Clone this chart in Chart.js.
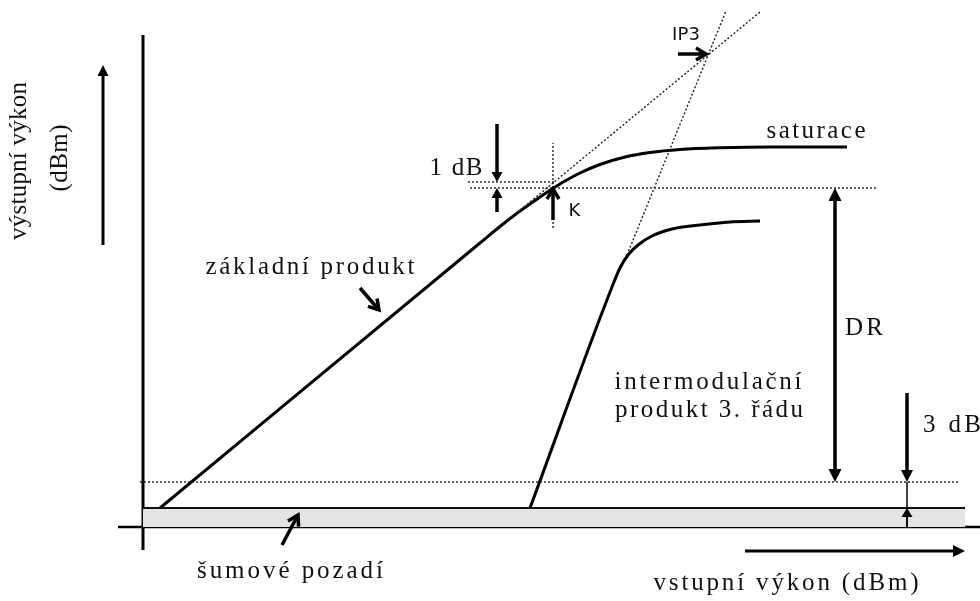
<!DOCTYPE html>
<html>
<head>
<meta charset="utf-8">
<script src="https://cdn.jsdelivr.net/npm/chart.js@4.4.0/dist/chart.umd.min.js"></script>
<style>
  html, body { margin: 0; padding: 0; background: #fff; }
  canvas { display: block; }
</style>
</head>
<body>
<canvas id="diagram" width="980" height="601"></canvas>
<script>
// relative input / output power (dB), axes cross at 0,0
const fundIn  = [1.7, 33.7, 35.7, 37.7, 39.7, 40.9, 42.2, 43.7, 45.7, 48.2, 50.7, 53.7, 57.7, 62.7, 70.4];
const fundOut = [1.9, 28.4, 30.05, 31.6, 33.0, 33.8, 34.6, 35.4, 36.25, 37.0, 37.45, 37.75, 37.92, 38.0, 38.0];

const im3In  = [38.7, 46.9, 47.7, 48.5, 49.5, 50.9, 52.9, 55.7, 58.7, 61.7];
const im3Out = [1.9, 24.0, 25.9, 27.2, 28.2, 29.1, 29.8, 30.2, 30.5, 30.6];

// extrapolated slopes (1:1 and 3:1) meeting at IP3
const gainLineIn  = [34.7, 61.7];
const gainLineOut = [29.2, 51.5];
const im3LineIn   = [48.4, 58.3];
const im3LineOut  = [27.2, 51.6];

const noiseFloor = 1.9;
const detectLevel = 4.5;      // noise floor + 3 dB
const kIn = 41.0;             // 1 dB compression point
const kOut = 33.9;
const kIdeal = 34.5;
const ip3 = [56.5, 47.2];

const pts = (xs, ys) => xs.map((x, i) => ({ x, y: ys[i] }));

const serif = '"Liberation Serif", "Times New Roman", serif';
const sans = '"DejaVu Sans", Verdana, sans-serif';

const arrows = [
  { from: [-4.0, 28.2], to: [-4.0, 46.2], w: 3, head: [11, 11] },
  { from: [60.2, -2.4], to: [82.2, -2.4], w: 3, head: [12, 12] },
  { from: [35.4, 40.3], to: [35.4, kIdeal], w: 3.5, head: [10, 11] },
  { from: [35.4, 31.5], to: [35.4, kOut], w: 3.5, head: [10, 11] },
  { from: [kIn, 30.7], to: [kIn, kOut - 0.1], w: 3.5, head: [10, 12], open: true },
  { from: [53.5, ip3[1] + 0.1], to: [56.3, ip3[1] + 0.1], w: 3.5, head: [10, 12], open: true },
  { from: [21.7, 23.9], to: [23.6, 21.7], w: 3.5, head: [10, 12], open: true },
  { from: [13.9, -1.8], to: [15.5, 1.2], w: 3.5, head: [10, 12], open: true },
  { from: [69.2, 19], to: [69.2, kOut], w: 3.5, head: [13, 13] },
  { from: [69.2, 19], to: [69.2, detectLevel], w: 3.5, head: [13, 13] },
  { from: [76.4, 13.4], to: [76.4, detectLevel], w: 3.5, head: [12, 12] },
  { from: [76.4, 0], to: [76.4, noiseFloor], w: 2, head: [9, 11] }
];

const labels = [
  { text: 'výstupní výkon', x: -12.4, y: 36.6, size: 25, width: 158, rot: -Math.PI / 2 },
  { text: '(dBm)', x: -8.3, y: 36.9, size: 25, width: 67, rot: -Math.PI / 2 },
  { text: '1 dB', x: 31.3, y: 35.9, size: 25, width: 53 },
  { text: 'K', x: 43.2, y: 31.6, size: 18, width: 13, family: sans },
  { text: 'IP3', x: 54.3, y: 49.2, size: 18, width: 28, family: sans },
  { text: 'saturace', x: 67.3, y: 39.6, size: 25, width: 99 },
  { text: 'základní produkt', x: 16.7, y: 26.0, size: 25, width: 209 },
  { text: 'DR', x: 72.1, y: 19.9, size: 25, width: 38 },
  { text: 'intermodulační', x: 56.5, y: 14.5, size: 25, width: 187 },
  { text: 'produkt 3. řádu', x: 56.6, y: 11.7, size: 25, width: 188 },
  { text: '3 dB', x: 78.0, y: 10.2, size: 25, width: 58, align: 'left' },
  { text: 'šumové pozadí', x: 14.7, y: -4.4, size: 25, width: 186 },
  { text: 'vstupní výkon (dBm)', x: 64.3, y: -5.6, size: 25, width: 265 }
];

function drawArrow(ctx, x1, y1, x2, y2, a) {
  const ang = Math.atan2(y2 - y1, x2 - x1);
  const [len, wid] = a.head;
  ctx.save();
  ctx.strokeStyle = '#000';
  ctx.fillStyle = '#000';
  ctx.lineWidth = a.w;
  ctx.lineCap = 'butt';
  const bx = x2 - Math.cos(ang) * (a.open ? 2 : len * 0.8);
  const by = y2 - Math.sin(ang) * (a.open ? 2 : len * 0.8);
  ctx.beginPath();
  ctx.moveTo(x1, y1);
  ctx.lineTo(bx, by);
  ctx.stroke();
  const lx = x2 - Math.cos(ang) * len + Math.sin(ang) * wid / 2;
  const ly = y2 - Math.sin(ang) * len - Math.cos(ang) * wid / 2;
  const rx = x2 - Math.cos(ang) * len - Math.sin(ang) * wid / 2;
  const ry = y2 - Math.sin(ang) * len + Math.cos(ang) * wid / 2;
  ctx.beginPath();
  if (a.open) {
    ctx.lineJoin = 'miter';
    ctx.moveTo(lx, ly);
    ctx.lineTo(x2, y2);
    ctx.lineTo(rx, ry);
    ctx.stroke();
  } else {
    ctx.moveTo(x2, y2);
    ctx.lineTo(lx, ly);
    ctx.lineTo(rx, ry);
    ctx.closePath();
    ctx.fill();
  }
  ctx.restore();
}

// spaced text stretched to a given run length
function drawSpaced(ctx, l, cx, cy) {
  const chars = Array.from(l.text);
  ctx.save();
  ctx.font = l.size + 'px ' + (l.family || serif);
  ctx.fillStyle = '#111';
  ctx.textBaseline = 'middle';
  ctx.textAlign = 'left';
  const ws = chars.map(c => ctx.measureText(c).width);
  const natural = ws.reduce((s, w) => s + w, 0);
  const gap = chars.length > 1 ? (l.width - natural) / (chars.length - 1) : 0;
  ctx.translate(cx, cy);
  if (l.rot) ctx.rotate(l.rot);
  let x = l.align === 'left' ? 0 : -l.width / 2;
  chars.forEach((c, i) => {
    ctx.fillText(c, x, 0);
    x += ws[i] + gap;
  });
  ctx.restore();
}

const annotations = {
  id: 'annotations',
  afterDatasetsDraw(chart) {
    const { ctx, scales: { x, y } } = chart;
    arrows.forEach(a => {
      drawArrow(ctx,
        x.getPixelForValue(a.from[0]), y.getPixelForValue(a.from[1]),
        x.getPixelForValue(a.to[0]), y.getPixelForValue(a.to[1]), a);
    });
    labels.forEach(l => drawSpaced(ctx, l, x.getPixelForValue(l.x), y.getPixelForValue(l.y)));
  }
};

const solid = (data, w, extra) => Object.assign({
  data, borderColor: '#000', borderWidth: w, pointRadius: 0, fill: false, tension: 0
}, extra || {});
const dotted = (data, extra) => Object.assign({
  data, borderColor: '#222', borderWidth: 1.4, borderDash: [2, 2], pointRadius: 0, fill: false, tension: 0
}, extra || {});

new Chart(document.getElementById('diagram'), {
  type: 'line',
  data: {
    datasets: [
      // noise floor band
      solid(pts([0, 82.2], [noiseFloor, noiseFloor]), 2, {
        borderColor: '#111', backgroundColor: '#e4e4e4', fill: { value: 0 }
      }),
      // axes
      solid(pts([0, 0], [-2.3, 49.2]), 3),
      solid(pts([-2.5, 83.7], [0, 0]), 2.5),
      // threshold 3 dB above noise floor
      dotted(pts([-0.3, 81.7], [detectLevel, detectLevel])),
      // 1 dB compression guides
      dotted(pts([32.5, 41.3], [kIdeal, kIdeal])),
      dotted(pts([32.7, 73.4], [kOut, kOut])),
      dotted(pts([kIn, kIn], [29.9, 38.4])),
      // extrapolated lines through IP3
      dotted(pts(gainLineIn, gainLineOut)),
      dotted(pts(im3LineIn, im3LineOut)),
      // 3 dB link between arrows
      solid(pts([76.4, 76.4], [noiseFloor, detectLevel]), 1.5),
      // fundamental and 3rd order intermodulation
      solid(pts(fundIn, fundOut), 3, { cubicInterpolationMode: 'monotone' }),
      solid(pts(im3In, im3Out), 3, { cubicInterpolationMode: 'monotone' })
    ]
  },
  options: {
    responsive: false,
    animation: false,
    devicePixelRatio: 1,
    layout: { padding: 0 },
    plugins: { legend: { display: false }, tooltip: { enabled: false } },
    scales: {
      x: { type: 'linear', min: -14.3, max: 83.7, display: false },
      y: { type: 'linear', min: -7.4, max: 52.7, display: false }
    }
  },
  plugins: [annotations]
});
</script>
</body>
</html>
